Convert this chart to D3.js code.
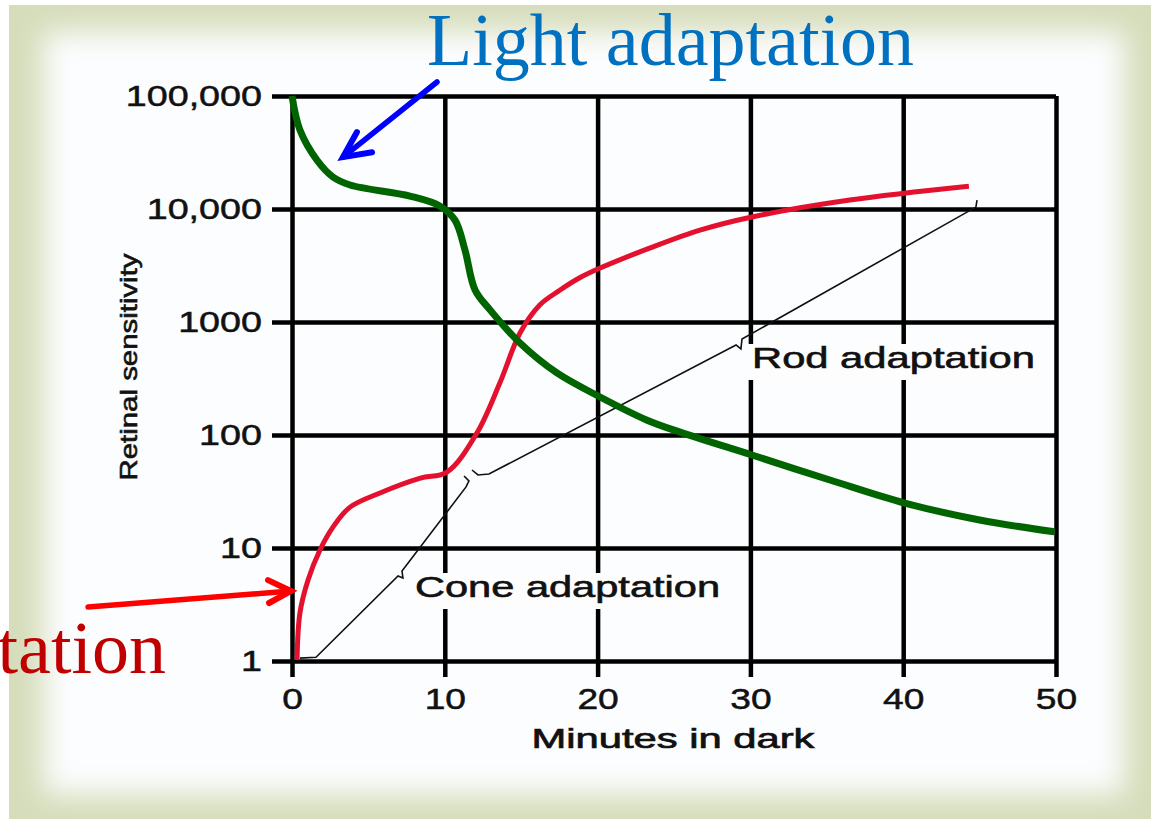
<!DOCTYPE html>
<html>
<head>
<meta charset="utf-8">
<script src="https://cdn.jsdelivr.net/npm/d3@7"></script>
<style>
  body { margin: 0; background: #fff; }
  svg { display: block; }
</style>
</head>
<body>
<script>
//=========================== data ============================================

var xTicks      = [0, 10, 20, 30, 40, 50];
var yTicks      = [1, 10, 100, 1000, 10000, 100000];
var yTickLabels = ["1", "10", "100", "1000", "10,000", "100,000"];

// red: sensitivity during dark adaptation [minutes, sensitivity]
var darkCurve = [
    [0.33, 1.02], [0.52, 2.66], [1.05, 5.2], [1.83, 9.6], [2.68, 15.3],
    [3.8, 23], [5.76, 30.7], [8.4, 41.5], [10.14, 47], [12.1, 104],
    [13.6, 288], [14.92, 800], [16.2, 1410], [17.5, 1900], [18.8, 2450],
    [20.16, 3000], [23.4, 4500], [26.7, 6500], [30.1, 8500], [36.5, 12000],
    [44.3, 15900]
];

// green: light adaptation [minutes, sensitivity]
var lightCurve = [
    [0, 100000], [0.52, 50000], [1.64, 27000], [2.68, 19200], [3.8, 16300],
    [7.72, 13000], [9.69, 10600], [10.67, 7950], [11.32, 4340], [11.98, 1920],
    [12.96, 1280], [14.92, 652], [17.34, 354], [20.16, 217], [23.2, 136],
    [25.4, 106], [30.1, 66.5], [35.2, 40], [40.1, 25], [45, 17.7], [49.9, 13.9]
];

// thin brace lines
var coneBrace = [
    [0.52, 1.06], [1.57, 1.08], [6.94, 5.65], [7.26, 5.43], [7.2, 6.26],
    [11.39, 34.7], [11.58, 39.2], [11.26, 43.4]
];
var rodBrace = [
    [11.78, 49], [12.17, 44.3], [12.89, 45.2], [29.06, 626], [29.38, 577],
    [29.45, 707], [44.76, 10400], [44.83, 12000]
];

// annotation arrows [minutes, sensitivity]: shaft then head
var lightArrow     = [[9.49, 133000], [3.34, 28800]];
var lightArrowHead = [[4.25, 48000], [3.34, 28800], [5.24, 31800]];
var darkArrow      = [[-13.35, 3.0], [-0.07, 4.16]];
var darkArrowHead  = [[-1.57, 5.2], [-0.07, 4.16], [-1.5, 3.26]];

//=========================== page ============================================

var W = 1151, H = 819;
var svg = d3.select("body").append("svg")
    .attr("width", W)
    .attr("height", H);

// frame with soft olive border
var defs = svg.append("defs");
defs.append("filter")
    .attr("id", "soft")
    .attr("x", "-10%").attr("y", "-10%")
    .attr("width", "120%").attr("height", "120%")
    .append("feGaussianBlur")
    .attr("stdDeviation", 14);
defs.append("clipPath").attr("id", "frameClip")
    .append("rect")
    .attr("x", 9).attr("y", 5).attr("width", W - 9).attr("height", H - 5);

var frame = svg.append("g").attr("clip-path", "url(#frameClip)");
frame.append("rect")
    .attr("x", 9).attr("y", 5).attr("width", W - 9).attr("height", H - 5)
    .attr("fill", "#d6ddbb");
frame.append("rect")
    .attr("x", 44).attr("y", 32).attr("width", 1080).attr("height", 762)
    .attr("fill", "#fcfdfe")
    .attr("filter", "url(#soft)");

//=========================== scales & grid ===================================

var x = d3.scaleLinear().domain([0, 50]).range([292, 1056]);
var y = d3.scaleLog().domain([1, 100000]).range([661, 96]);

var font = "'Liberation Sans', Arial, sans-serif";

var yAxis = svg.append("g")
    .attr("transform", "translate(272,0)")
    .call(d3.axisLeft(y)
        .tickValues(yTicks)
        .tickFormat(function(d, i) { return yTickLabels[i]; })
        .tickSize(-(x(50) - 272))
        .tickPadding(10));

var xAxis = svg.append("g")
    .attr("transform", "translate(0,677)")
    .call(d3.axisBottom(x)
        .tickValues(xTicks)
        .tickSize(-(677 - y(100000)))
        .tickPadding(11));

[xAxis, yAxis].forEach(function(g) {
    g.select(".domain").remove();
    g.selectAll(".tick line")
        .attr("stroke", "#000")
        .attr("stroke-width", 4.5);
    g.selectAll(".tick text")
        .attr("fill", "#111")
        .attr("stroke", "#111")
        .attr("stroke-width", 0.5)
        .style("font-family", font)
        .style("font-size", "29px");
});

// the source picture is stretched sideways: widen horizontal texts
function stretch(sel, k) {
    sel.each(function() {
        var len = this.getComputedTextLength();
        d3.select(this)
            .attr("textLength", len * k)
            .attr("lengthAdjust", "spacingAndGlyphs");
    });
}
stretch(yAxis.selectAll(".tick text"), 1.3);
stretch(xAxis.selectAll(".tick text"), 1.28);

// axis titles
svg.append("text")
    .attr("x", 673).attr("y", 748)
    .attr("text-anchor", "middle")
    .style("font-family", font)
    .style("font-size", "28px")
    .attr("fill", "#111")
    .attr("stroke", "#111")
    .attr("stroke-width", 0.7)
    .attr("textLength", 283)
    .attr("lengthAdjust", "spacingAndGlyphs")
    .text("Minutes in dark");

svg.append("text")
    .attr("transform", "translate(137,367) rotate(-90)")
    .attr("text-anchor", "middle")
    .style("font-family", font)
    .style("font-size", "24px")
    .attr("fill", "#111")
    .attr("stroke", "#111")
    .attr("stroke-width", 0.6)
    .attr("textLength", 227)
    .attr("lengthAdjust", "spacingAndGlyphs")
    .text("Retinal sensitivity");

//=========================== curves ==========================================

var lineLinear = d3.line()
    .x(function(d) { return x(d[0]); })
    .y(function(d) { return y(d[1]); });
var lineSmooth = d3.line()
    .x(function(d) { return x(d[0]); })
    .y(function(d) { return y(d[1]); })
    .curve(d3.curveCatmullRom.alpha(0.5));

svg.append("path").datum(coneBrace)
    .attr("d", lineLinear)
    .attr("fill", "none").attr("stroke", "#111").attr("stroke-width", 1.6);
svg.append("path").datum(rodBrace)
    .attr("d", lineLinear)
    .attr("fill", "none").attr("stroke", "#111").attr("stroke-width", 1.6);

// brace labels with white boxes over the grid
function boxLabel(px, py, label, width) {
    var g = svg.append("g");
    var t = g.append("text")
        .attr("x", px).attr("y", py)
        .style("font-family", font)
        .style("font-size", "29px")
        .attr("fill", "#111")
        .attr("stroke", "#111")
        .attr("stroke-width", 0.6)
        .attr("textLength", width)
        .attr("lengthAdjust", "spacingAndGlyphs")
        .text(label);
    var b = t.node().getBBox();
    g.insert("rect", "text")
        .attr("x", b.x - 6).attr("y", b.y + 2)
        .attr("width", b.width + 10).attr("height", b.height + 4)
        .attr("fill", "#fdfdfe");
}
boxLabel(752, 368, "Rod adaptation", 283);
boxLabel(415, 597, "Cone adaptation", 305);

svg.append("path").datum(darkCurve)
    .attr("d", lineSmooth)
    .attr("fill", "none").attr("stroke", "#e4112e").attr("stroke-width", 5);

svg.append("path").datum(lightCurve)
    .attr("d", lineSmooth)
    .attr("fill", "none").attr("stroke", "#006400").attr("stroke-width", 7);

//=========================== annotations =====================================

function arrow(shaft, head, color) {
    svg.append("path").datum(shaft)
        .attr("d", lineLinear)
        .attr("fill", "none").attr("stroke", color).attr("stroke-width", 5.5)
        .attr("stroke-linecap", "round");
    svg.append("path").datum(head)
        .attr("d", lineLinear)
        .attr("fill", "none").attr("stroke", color).attr("stroke-width", 6)
        .attr("stroke-linecap", "round").attr("stroke-linejoin", "miter");
}
arrow(lightArrow, lightArrowHead, "#0000ff");
arrow(darkArrow, darkArrowHead, "#ff0000");

var serif = "'Liberation Serif', 'Times New Roman', serif";
svg.append("text")
    .attr("x", 427).attr("y", 65)
    .style("font-family", serif)
    .style("font-size", "74px")
    .attr("fill", "#0070c0")
    .text("Light adaptation");

svg.append("text")
    .attr("x", 166).attr("y", 673)
    .attr("text-anchor", "end")
    .style("font-family", serif)
    .style("font-size", "74px")
    .attr("fill", "#c00000")
    .text("Dark adaptation");
</script>
</body>
</html>
